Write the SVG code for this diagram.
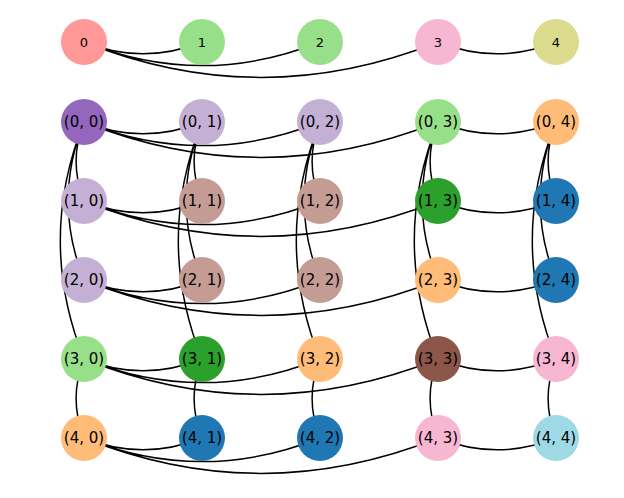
<svg xmlns="http://www.w3.org/2000/svg" width="624" height="498" viewBox="0 0 624 498">
<style>
.e{fill:none;stroke:#000;stroke-width:1.5}
text{font-family:"DejaVu Sans",sans-serif;font-size:15px;text-anchor:middle;dominant-baseline:central;fill:#000}
.s{font-size:13px}
</style>
<rect width="624" height="498" fill="#fff"/>
<g id="edges">
<path class="e" d="M84 42Q143 65.6 202 42M84 42Q202 89.2 320 42M84 42Q261 112.8 438 42M438 42Q497 65.6 556 42"/>
<path class="e" d="M84 122Q143 145.6 202 122M84 122Q202 169.2 320 122M84 122Q261 192.8 438 122M438 122Q497 145.6 556 122"/>
<path class="e" d="M84 201Q143 224.6 202 201M84 201Q202 248.2 320 201M84 201Q261 271.8 438 201M438 201Q497 224.6 556 201"/>
<path class="e" d="M84 280Q143 303.6 202 280M84 280Q202 327.2 320 280M84 280Q261 350.8 438 280M438 280Q497 303.6 556 280"/>
<path class="e" d="M84 359Q143 382.6 202 359M84 359Q202 406.2 320 359M84 359Q261 429.8 438 359M438 359Q497 382.6 556 359"/>
<path class="e" d="M84 438Q143 461.6 202 438M84 438Q202 485.2 320 438M84 438Q261 508.8 438 438M438 438Q497 461.6 556 438"/>
<path class="e" d="M84 122Q68.2 161.5 84 201M84 122Q52.4 201 84 280M84 122Q36.6 240.5 84 359M84 359Q68.2 398.5 84 438"/>
<path class="e" d="M202 122Q186.2 161.5 202 201M202 122Q170.4 201 202 280M202 122Q154.6 240.5 202 359M202 359Q186.2 398.5 202 438"/>
<path class="e" d="M320 122Q304.2 161.5 320 201M320 122Q288.4 201 320 280M320 122Q272.6 240.5 320 359M320 359Q304.2 398.5 320 438"/>
<path class="e" d="M438 122Q422.2 161.5 438 201M438 122Q406.4 201 438 280M438 122Q390.6 240.5 438 359M438 359Q422.2 398.5 438 438"/>
<path class="e" d="M556 122Q540.2 161.5 556 201M556 122Q524.4 201 556 280M556 122Q508.6 240.5 556 359M556 359Q540.2 398.5 556 438"/>
</g>
<g id="n0"><circle cx="84" cy="42" r="23" fill="#ff9896"/><text class="s" x="84" y="42">0</text></g>
<g id="n1"><circle cx="202" cy="42" r="23" fill="#98df8a"/><text class="s" x="202" y="42">1</text></g>
<g id="n2"><circle cx="320" cy="42" r="23" fill="#98df8a"/><text class="s" x="320" y="42">2</text></g>
<g id="n3"><circle cx="438" cy="42" r="23" fill="#f7b6d2"/><text class="s" x="438" y="42">3</text></g>
<g id="n4"><circle cx="556" cy="42" r="23" fill="#dbdb8d"/><text class="s" x="556" y="42">4</text></g>
<g id="n00"><circle cx="84" cy="122" r="23" fill="#9467bd"/><text x="84" y="122">(0, 0)</text></g>
<g id="n01"><circle cx="202" cy="122" r="23" fill="#c5b0d5"/><text x="202" y="122">(0, 1)</text></g>
<g id="n02"><circle cx="320" cy="122" r="23" fill="#c5b0d5"/><text x="320" y="122">(0, 2)</text></g>
<g id="n03"><circle cx="438" cy="122" r="23" fill="#98df8a"/><text x="438" y="122">(0, 3)</text></g>
<g id="n04"><circle cx="556" cy="122" r="23" fill="#ffbb78"/><text x="556" y="122">(0, 4)</text></g>
<g id="n10"><circle cx="84" cy="201" r="23" fill="#c5b0d5"/><text x="84" y="201">(1, 0)</text></g>
<g id="n11"><circle cx="202" cy="201" r="23" fill="#c49c94"/><text x="202" y="201">(1, 1)</text></g>
<g id="n12"><circle cx="320" cy="201" r="23" fill="#c49c94"/><text x="320" y="201">(1, 2)</text></g>
<g id="n13"><circle cx="438" cy="201" r="23" fill="#2ca02c"/><text x="438" y="201">(1, 3)</text></g>
<g id="n14"><circle cx="556" cy="201" r="23" fill="#1f77b4"/><text x="556" y="201">(1, 4)</text></g>
<g id="n20"><circle cx="84" cy="280" r="23" fill="#c5b0d5"/><text x="84" y="280">(2, 0)</text></g>
<g id="n21"><circle cx="202" cy="280" r="23" fill="#c49c94"/><text x="202" y="280">(2, 1)</text></g>
<g id="n22"><circle cx="320" cy="280" r="23" fill="#c49c94"/><text x="320" y="280">(2, 2)</text></g>
<g id="n23"><circle cx="438" cy="280" r="23" fill="#ffbb78"/><text x="438" y="280">(2, 3)</text></g>
<g id="n24"><circle cx="556" cy="280" r="23" fill="#1f77b4"/><text x="556" y="280">(2, 4)</text></g>
<g id="n30"><circle cx="84" cy="359" r="23" fill="#98df8a"/><text x="84" y="359">(3, 0)</text></g>
<g id="n31"><circle cx="202" cy="359" r="23" fill="#2ca02c"/><text x="202" y="359">(3, 1)</text></g>
<g id="n32"><circle cx="320" cy="359" r="23" fill="#ffbb78"/><text x="320" y="359">(3, 2)</text></g>
<g id="n33"><circle cx="438" cy="359" r="23" fill="#8c564b"/><text x="438" y="359">(3, 3)</text></g>
<g id="n34"><circle cx="556" cy="359" r="23" fill="#f7b6d2"/><text x="556" y="359">(3, 4)</text></g>
<g id="n40"><circle cx="84" cy="438" r="23" fill="#ffbb78"/><text x="84" y="438">(4, 0)</text></g>
<g id="n41"><circle cx="202" cy="438" r="23" fill="#1f77b4"/><text x="202" y="438">(4, 1)</text></g>
<g id="n42"><circle cx="320" cy="438" r="23" fill="#1f77b4"/><text x="320" y="438">(4, 2)</text></g>
<g id="n43"><circle cx="438" cy="438" r="23" fill="#f7b6d2"/><text x="438" y="438">(4, 3)</text></g>
<g id="n44"><circle cx="556" cy="438" r="23" fill="#9edae5"/><text x="556" y="438">(4, 4)</text></g>
</svg>
